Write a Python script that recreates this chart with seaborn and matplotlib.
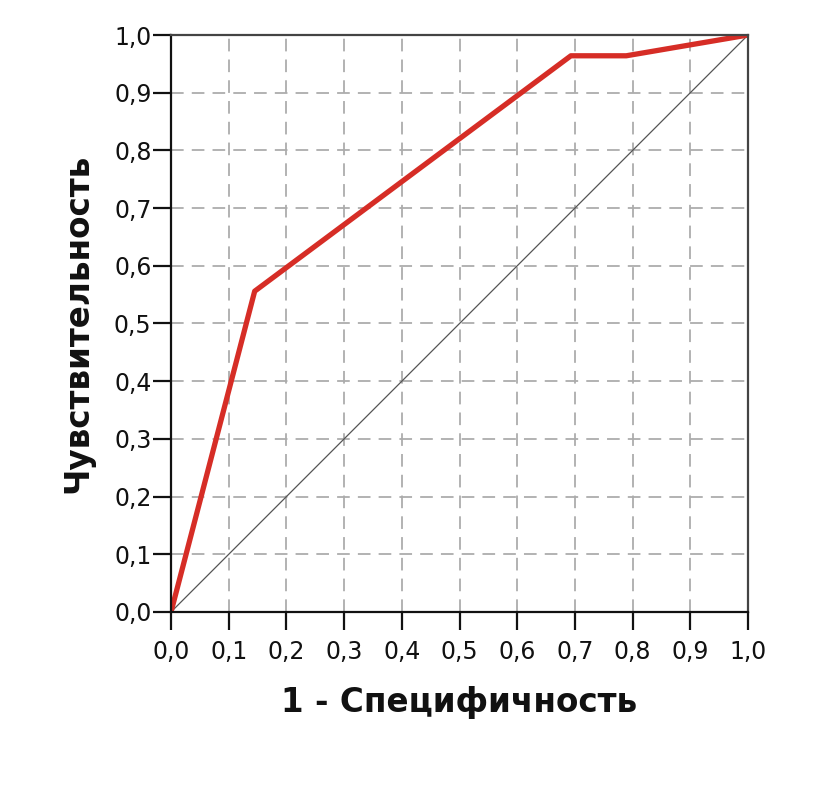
import matplotlib
matplotlib.use("Agg")
import matplotlib.pyplot as plt
import seaborn as sns
import pandas as pd
import numpy as np

fpr = [0.0, 0.145, 0.693, 0.789, 1.0]
tpr = [0.0, 0.556, 0.964, 0.964, 1.0]
ref = [0.0, 1.0]
ticks = [0.0, 0.1, 0.2, 0.3, 0.4, 0.5, 0.6, 0.7, 0.8, 0.9, 1.0]
tick_labels = ["0,0", "0,1", "0,2", "0,3", "0,4", "0,5", "0,6", "0,7", "0,8", "0,9", "1,0"]

sns.set_style("white")
plt.rcParams['font.family'] = ['DejaVu Sans']

fig = plt.figure(figsize=(8.27, 7.85), dpi=100)
ax = fig.add_axes([0.2068, 0.2204, 0.6977, 0.735])

ax.set_xlim(0, 1)
ax.set_ylim(0, 1)
ax.set_xticks(ticks)
ax.set_yticks(ticks)
ax.set_xticklabels(tick_labels, fontsize=17, color="#111111")
ax.set_yticklabels(tick_labels, fontsize=17, color="#111111")
ax.grid(True, color="#acacac", linestyle=(0, (7, 4.5)), linewidth=1.3)
ax.set_axisbelow(True)

sns.lineplot(x=ref, y=ref, ax=ax, color="#555555", linewidth=0.9, estimator=None, sort=False)
sns.lineplot(x=fpr, y=tpr, ax=ax, color="#d62d26", linewidth=3.8, estimator=None, sort=False)

for s in ["left", "bottom"]:
    ax.spines[s].set_color("#111111")
    ax.spines[s].set_linewidth(1.6)
for s in ["top", "right"]:
    ax.spines[s].set_color("#444444")
    ax.spines[s].set_linewidth(1.6)

ax.tick_params(axis="both", direction="out", length=13, width=1.6, color="#111111",
               bottom=True, left=True, top=False, right=False)
ax.tick_params(axis="x", pad=7)
ax.tick_params(axis="y", pad=1)
ax.set_xlabel("1 - Специфичность", fontsize=23.5, fontweight="bold", labelpad=16, color="#111111")
ax.set_ylabel("Чувствительность", fontsize=23.5, fontweight="bold", labelpad=14, color="#111111")

fig.savefig("out.png", dpi=100)
